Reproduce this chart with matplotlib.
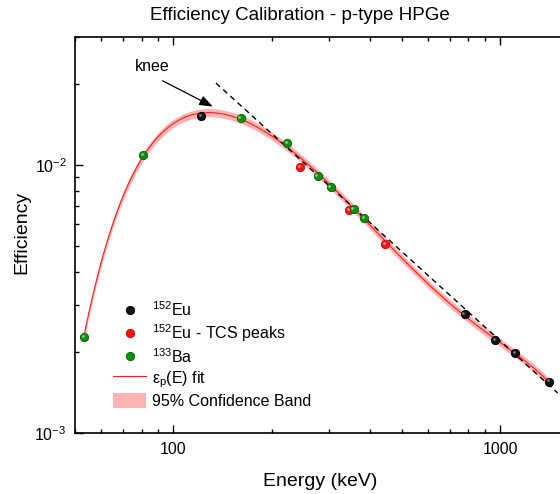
import numpy as np
import matplotlib
matplotlib.use('Agg')
import matplotlib.pyplot as plt
from matplotlib.lines import Line2D
from matplotlib.patches import Patch
from matplotlib.ticker import LogLocator, FuncFormatter, NullFormatter
import matplotlib.transforms as mtransforms

plt.rcParams['font.family'] = ['Liberation Sans', 'DejaVu Sans']
plt.rcParams['mathtext.fontset'] = 'custom'
plt.rcParams['mathtext.rm'] = 'Liberation Sans'
plt.rcParams['mathtext.it'] = 'Liberation Sans:italic'
plt.rcParams['mathtext.bf'] = 'Liberation Sans:bold'

# ---- data ----
eu_E = [121.8, 778.9, 964.1, 1112.1, 1408.0]
eu_eff = [0.01524, 0.00277, 0.00222, 0.00198, 0.001554]
tcs_E = [244.7, 344.3, 444.0]
tcs_eff = [0.00983, 0.00679, 0.00506]
ba_E = [53.2, 81.0, 160.6, 223.2, 276.4, 302.9, 356.0, 383.9]
ba_eff = [0.00228, 0.01090, 0.01496, 0.01208, 0.00910, 0.00828, 0.00685, 0.00634]
band_rel = 0.035          # half width of the 95 % band (relative)
fit_degree = 6
asym_E = [135.0, 1500.0]
asym_eff = [0.0202, 0.00141]
knee_tip = (132.0, 0.0165)
knee_tail = (92.7, 0.0206)
knee_label_pos = (86.4, 0.0233)

# ---- fit (log-log polynomial through the non-TCS points) ----
fitE = np.array(eu_E + ba_E)
fitY = np.array(eu_eff + ba_eff)
coef = np.polyfit(np.log(fitE), np.log(fitY), fit_degree)
E_grid = np.geomspace(min(fitE), max(fitE), 400)
fit_curve = np.exp(np.polyval(coef, np.log(E_grid)))

fig = plt.figure(figsize=(5.6, 4.94), dpi=100)
L, R, B, T = 75, 560.5, 433, 37
W, H = 560, 494
ax = fig.add_axes([L / W, 1 - B / H, (R - L) / W, (B - T) / H])
ax.set_xscale('log')
ax.set_yscale('log')
ax.set_xlim(50, 1530)
ax.set_ylim(1e-3, 0.03)

ax.fill_between(E_grid, fit_curve * (1 - band_rel), fit_curve * (1 + band_rel),
                color='#ffb3b3', lw=0, zorder=1)
ax.plot(E_grid, fit_curve, color='#ff2020', lw=0.8, zorder=2)
ax.plot(asym_E, asym_eff, color='black', lw=1.0, ls=(0, (4, 3)), zorder=3)

hl = mtransforms.offset_copy(ax.transData, fig=fig, x=-1.2, y=1.2, units='dots')
series = [
    (eu_E, eu_eff, '#151515', '#000000', '#808080'),
    (tcs_E, tcs_eff, '#ff1414', '#d00000', '#ff9a9a'),
    (ba_E, ba_eff, '#0c900c', '#066006', '#8fd88f'),
]
for xs, ys, fc, ec, hc in series:
    ax.plot(xs, ys, ls='none', marker='o', ms=6.0, mfc=fc, mec=ec, mew=0.6, zorder=4)
    ax.plot(xs, ys, ls='none', marker='o', ms=2.0, mfc=hc, mec='none',
            alpha=0.9, transform=hl, zorder=5)

ax.annotate('', xy=knee_tip, xytext=knee_tail,
            arrowprops=dict(arrowstyle='-|>,head_length=0.8,head_width=0.3',
                            color='black', lw=0.9, shrinkA=0, shrinkB=0))
ax.text(knee_label_pos[0], knee_label_pos[1], 'knee', ha='center', va='center',
        fontsize=11.5)

# ---- ticks ----
ax.xaxis.set_major_locator(LogLocator(base=10))
ax.xaxis.set_minor_locator(LogLocator(base=10, subs=np.arange(2, 10)))
ax.xaxis.set_major_formatter(FuncFormatter(lambda v, p: f'{v:g}'))
ax.xaxis.set_minor_formatter(NullFormatter())
ax.yaxis.set_minor_locator(LogLocator(base=10, subs=np.arange(2, 10)))
ax.yaxis.set_minor_formatter(NullFormatter())
ax.tick_params(which='both', direction='in', top=True, right=False,
               labelsize=11.5, width=1.0)
ax.tick_params(which='major', length=6)
ax.tick_params(which='minor', length=3.2)
ax.tick_params(axis='x', pad=6.5)
ax.tick_params(axis='y', pad=6)
for s in ax.spines.values():
    s.set_linewidth(1.2)
ax.spines['right'].set_visible(False)

# ---- legend ----
handles = [
    Line2D([], [], ls='none', marker='o', ms=6.0, mfc='#151515', mec='#000000', mew=0.6),
    Line2D([], [], ls='none', marker='o', ms=6.0, mfc='#ff1414', mec='#d00000', mew=0.6),
    Line2D([], [], ls='none', marker='o', ms=6.0, mfc='#0c900c', mec='#066006', mew=0.6),
    Line2D([], [], color='#ff2020', lw=0.8),
    Patch(facecolor='#ffb3b3', edgecolor='none'),
]
labels = ['$^{152}$Eu', '$^{152}$Eu - TCS peaks', '$^{133}$Ba',
          'ε$_{\\mathrm{p}}$(E) fit', '95% Confidence Band']
ax.legend(handles, labels, loc='upper left', bbox_to_anchor=(0.078, 0.335),
          frameon=False, fontsize=11.5, borderpad=0, borderaxespad=0,
          handlelength=2.1, handleheight=1.05, handletextpad=0.35,
          labelspacing=0.2)

fig.text(300 / W, 1 - 20.5 / H, 'Efficiency Calibration - p-type HPGe',
         ha='center', va='baseline', fontsize=13.5)
fig.text(320 / W, 1 - 486 / H, 'Energy (keV)', ha='center', va='baseline',
         fontsize=14)
fig.text(21.5 / W, 1 - 232 / H, 'Efficiency', ha='center', va='center',
         rotation=90, fontsize=14)

fig.savefig('out.png', dpi=100)
